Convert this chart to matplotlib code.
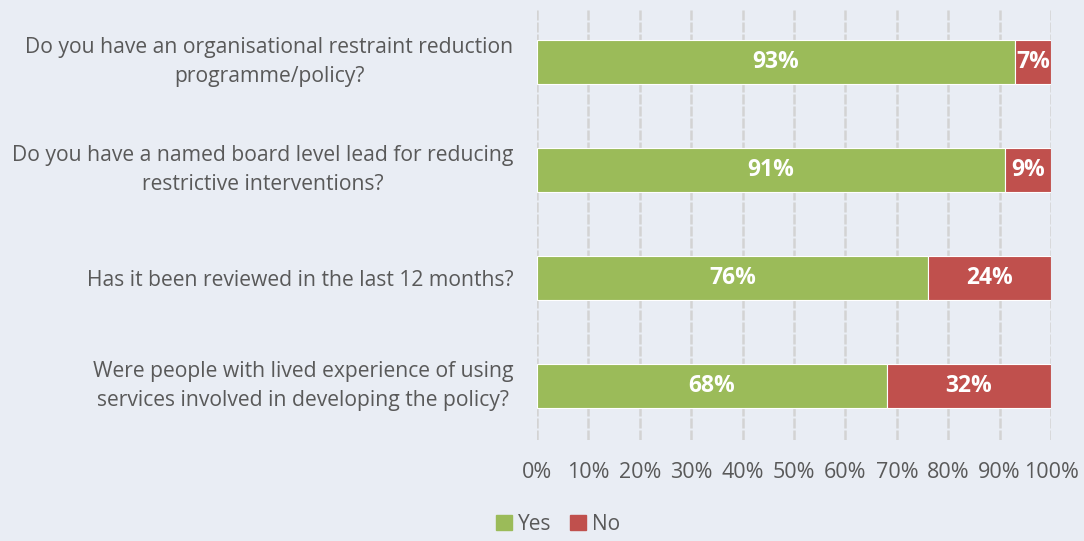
import matplotlib.pyplot as plt
from matplotlib.patches import Patch

questions = [
    "Do you have an organisational restraint reduction\nprogramme/policy?",
    "Do you have a named board level lead for reducing\nrestrictive interventions?",
    "Has it been reviewed in the last 12 months?",
    "Were people with lived experience of using\nservices involved in developing the policy?",
]
yes_pct = [93, 91, 76, 68]
no_pct = [7, 9, 24, 32]
x_ticks = [0, 10, 20, 30, 40, 50, 60, 70, 80, 90, 100]

bg = "#E9EDF4"
green = "#9BBB59"
red = "#C0504D"
text_col = "#595959"

plt.rcParams["font.family"] = ["Open Sans", "DejaVu Sans"]

fig = plt.figure(figsize=(10.84, 5.41), dpi=100, facecolor=bg)
ax = fig.add_axes([0.4954, 0.1867, 0.4742, 0.7985], facecolor=bg)

pos = list(range(len(questions)))
bh = 0.41
ax.barh(pos, yes_pct, height=bh, color=green, edgecolor="white", linewidth=0.8, zorder=3)
ax.barh(pos, no_pct, left=yes_pct, height=bh, color=red, edgecolor="white", linewidth=0.8, zorder=3)

for i, (y, n) in enumerate(zip(yes_pct, no_pct)):
    ax.text(y / 2, i, f"{y}%", ha="center", va="center", color="white",
            fontsize=16.5, fontweight="bold", zorder=4)
    ax.text(y + n / 2, i, f"{n}%", ha="center", va="center", color="white",
            fontsize=16.5, fontweight="bold", zorder=4)

ax.set_xlim(0, 100)
ax.set_ylim(3.5, -0.5)
ax.set_xticks(x_ticks)
ax.set_xticklabels([f"{t}%" for t in x_ticks], fontsize=15.5)
ax.set_yticks(pos)
ax.set_yticklabels(questions, multialignment="center", linespacing=1.55, fontsize=15.2)
for lbl in ax.get_yticklabels():
    if "\n" in lbl.get_text():
        lbl.set_va("center")
ax.tick_params(axis="both", length=0, colors=text_col)
ax.tick_params(axis="x", pad=16)
ax.tick_params(axis="y", pad=17)
ax.grid(axis="x", color="#D3D3D3", linewidth=1.8, linestyle=(0, (4, 0.8)), zorder=0)
for s in ax.spines.values():
    s.set_visible(False)

handles = [Patch(color=green, label="Yes"), Patch(color=red, label="No")]
fig.legend(handles=handles, loc="center", bbox_to_anchor=(0.515, 0.031), ncol=2,
           frameon=False, fontsize=15, labelcolor=text_col, handlelength=0.75,
           handleheight=0.75, handletextpad=0.3, columnspacing=0.9)

fig.savefig("out.png", dpi=100, facecolor=bg)
